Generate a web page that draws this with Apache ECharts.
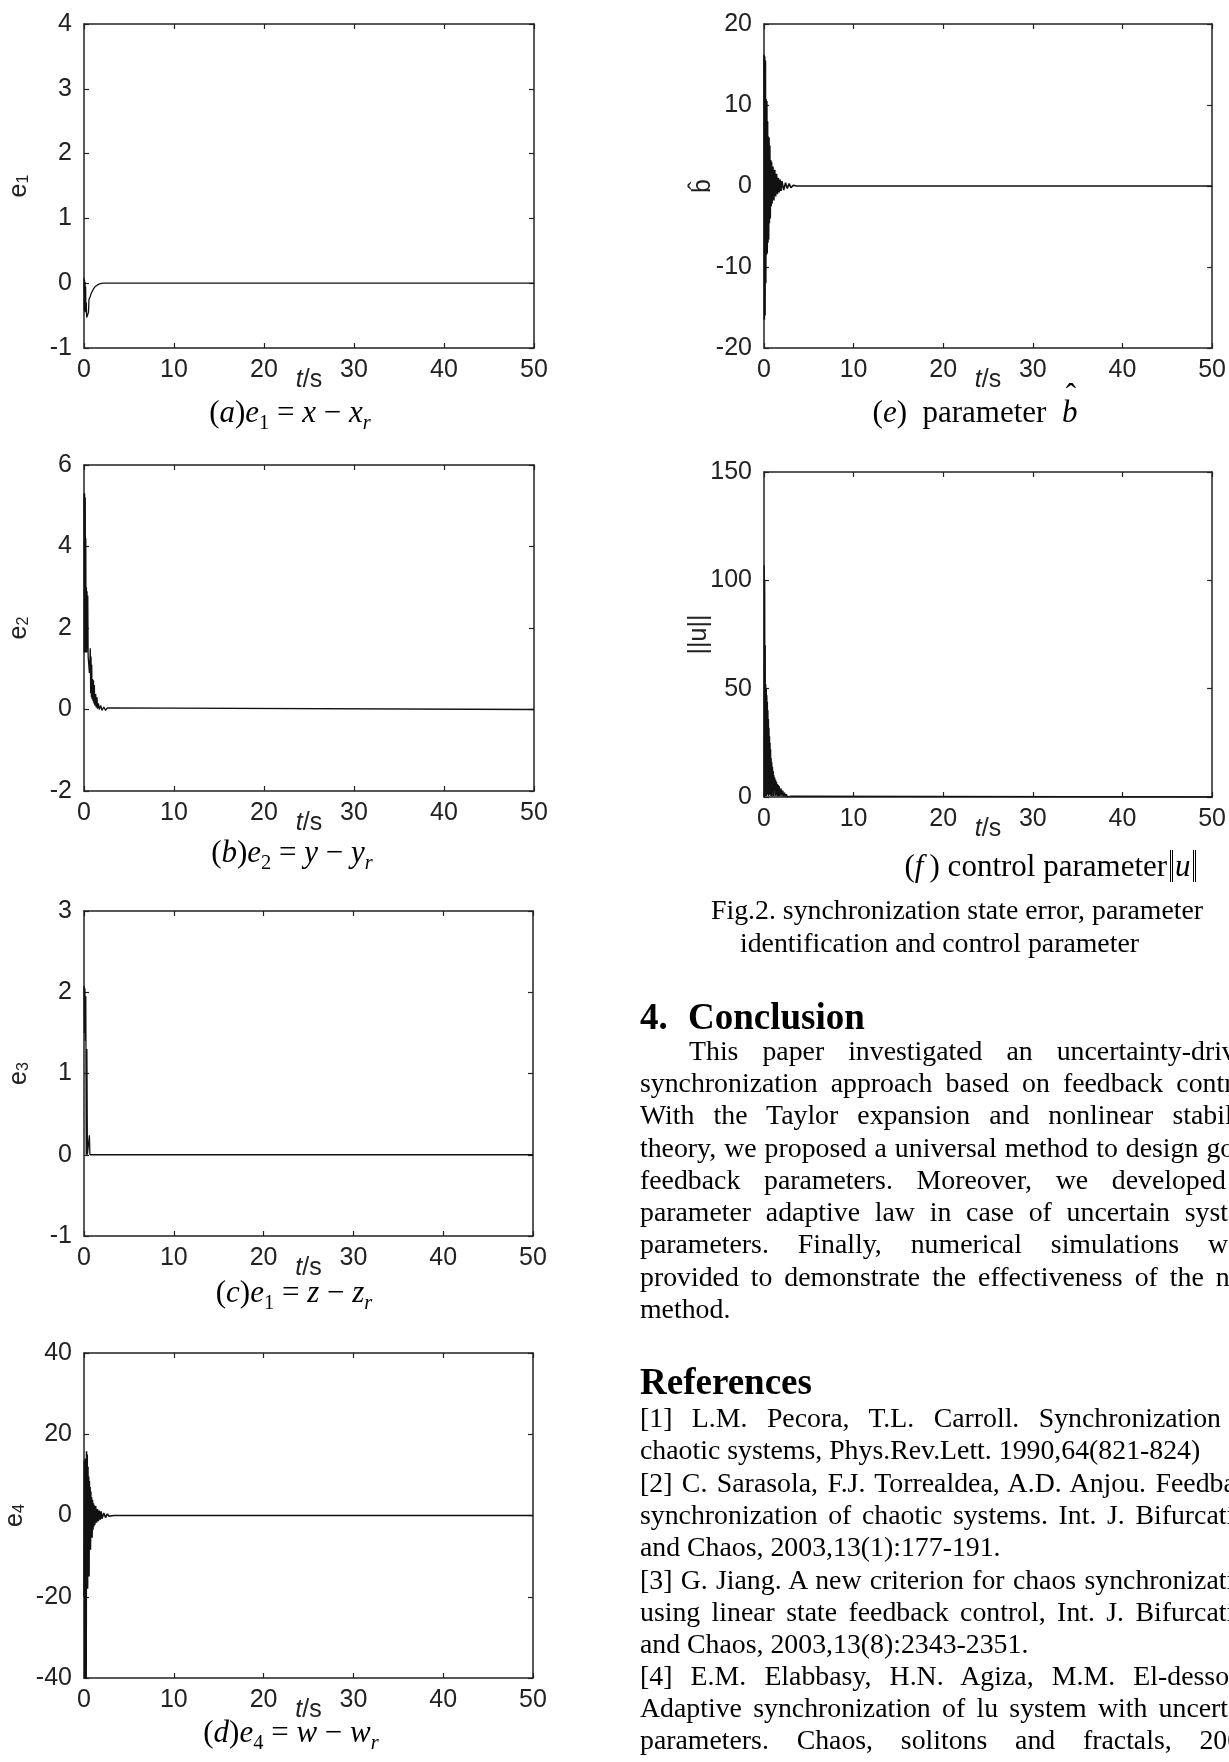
<!DOCTYPE html>
<html><head><meta charset="utf-8">
<script src="https://cdn.jsdelivr.net/npm/echarts/dist/echarts.min.js"></script>
<style>
html,body{margin:0;padding:0;width:1229px;height:1762px;overflow:hidden;background:#fff;}
#chart{position:absolute;left:0;top:0;width:1229px;height:1762px;}
.t{position:absolute;font-family:"Liberation Serif","Times New Roman",serif;color:#000;white-space:nowrap;}
.cap{font-size:31px;line-height:36px;text-align:center;}
.sub{font-size:0.66em;position:relative;top:0.32em;}
.hat{position:relative;display:inline-block;}
.hat::before{content:"\02C6";position:absolute;left:0.12em;top:-0.55em;font-style:normal;}
.nb{display:inline-block;border-left:3px double #000;border-right:3px double #000;padding:0 2px;line-height:32px;margin-left:3px;}
.j{position:absolute;font-family:"Liberation Serif","Times New Roman",serif;font-size:27.8px;line-height:32px;height:32px;overflow:hidden;color:#000;text-align:justify;text-align-last:justify;}
.l{position:absolute;font-family:"Liberation Serif","Times New Roman",serif;font-size:27.8px;line-height:32px;color:#000;white-space:nowrap;}
.h{position:absolute;font-family:"Liberation Serif","Times New Roman",serif;font-size:37px;line-height:40px;font-weight:bold;color:#000;white-space:nowrap;}
</style>
</head><body>
<div id="chart"></div>
<div id="texts"></div>
<script>
// ---------- data (t in s, value) ----------
const xTickValues = [0, 10, 20, 30, 40, 50];

const e1Data = [[0,0.08],[0.03,-0.42],[0.06,0.05],[0.09,-0.44],[0.12,0.02],[0.15,-0.45],[0.18,-0.05],[0.21,-0.45],[0.25,-0.3],[0.3,-0.53],[0.35,-0.55],[0.42,-0.5],[0.5,-0.45],[0.55,-0.25],[0.7,-0.2],[0.8,-0.16],[0.9,-0.13],[1.0,-0.1],[1.1,-0.07],[1.25,-0.05],[1.4,-0.03],[1.7,-0.01],[2.1,0],[50,0]];

const e2Data = [[0,5.3],[0.03,1.4],[0.07,5.3],[0.1,1.4],[0.14,5.2],[0.17,1.5],[0.2,4.2],[0.23,1.4],[0.27,3.0],[0.3,1.4],[0.34,2.9],[0.37,1.5],[0.42,2.8],[0.46,1.3],[0.5,1.3],[0.6,0.9],[0.7,1.5],[0.74,0.4],[0.78,1.3],[0.82,0.3],[0.86,1.1],[0.9,0.25],[0.95,0.75],[1.0,0.2],[1.05,0.72],[1.1,0.15],[1.15,0.6],[1.2,0.1],[1.3,0.38],[1.35,0.05],[1.45,0.3],[1.5,0.02],[1.6,0.15],[1.7,0.0],[1.85,0.1],[2.0,-0.02],[2.2,0.06],[2.4,-0.02],[2.6,0.04],[2.8,0],[50,0]];

const e3Data = [[0,2.08],[0.05,1.5],[0.1,2.05],[0.15,1.4],[0.2,1.95],[0.25,0.0],[0.32,1.3],[0.38,0.0],[0.6,0.24],[0.66,0],[50,0]];

const e4Data = [[0,-20],[0.04,13.5],[0.08,-40],[0.12,14],[0.16,-18],[0.2,13],[0.24,-40],[0.28,15.8],[0.32,-15],[0.36,15],[0.4,-18],[0.44,12],[0.48,-12],[0.52,9.6],[0.56,-15],[0.6,8.5],[0.64,-8],[0.68,7],[0.72,-8.4],[0.76,5.9],[0.8,-5.2],[0.85,4.5],[0.9,-5.5],[0.95,3.8],[1.0,-3.5],[1.05,3],[1.1,-2.7],[1.15,2.5],[1.2,-2.3],[1.3,2.3],[1.4,-1.8],[1.5,1.6],[1.6,-1.4],[1.7,1.2],[1.8,-1.0],[1.9,1.0],[2.0,-0.8],[2.2,0.6],[2.4,-0.5],[2.6,0.4],[2.8,-0.2],[3.0,0.2],[3.3,0],[50,0]];

const bHatData = [[0,16.2],[0.04,-16.5],[0.08,16],[0.12,-16],[0.16,15.5],[0.2,-12],[0.24,10.7],[0.28,-8.5],[0.32,10.5],[0.36,-8.3],[0.4,8],[0.44,-7],[0.48,6.1],[0.52,-6.6],[0.56,6],[0.6,-4.6],[0.65,5],[0.7,-4],[0.75,3.2],[0.8,-2.5],[0.85,3],[0.9,-2.2],[1.0,2.4],[1.1,-1.8],[1.2,2],[1.3,-1.3],[1.4,1.5],[1.5,-1],[1.6,1],[1.7,-0.8],[1.8,0.8],[1.9,-0.6],[2.0,0.6],[2.2,-0.5],[2.4,0.4],[2.6,-0.3],[2.8,0.3],[3.0,-0.2],[3.3,0.1],[3.6,0],[50,0]];

const uNormData = [[0,0],[0.02,107],[0.05,2],[0.08,100],[0.11,1],[0.14,70],[0.17,0.5],[0.2,52],[0.23,1.5],[0.26,50],[0.29,0.5],[0.32,47],[0.35,3],[0.38,44],[0.41,1],[0.44,40],[0.47,3],[0.5,36],[0.53,0.5],[0.56,32],[0.59,3.5],[0.62,28],[0.65,1],[0.68,25],[0.71,4],[0.74,22],[0.77,0.5],[0.8,18],[0.83,2],[0.87,16],[0.91,0.3],[0.95,14],[0.99,3],[1.03,12],[1.07,0.5],[1.11,10],[1.15,3],[1.2,9],[1.25,0.5],[1.3,8],[1.35,1],[1.4,7],[1.45,0.3],[1.5,6],[1.55,0.5],[1.6,5.5],[1.65,0.3],[1.7,5],[1.8,0.5],[1.9,4],[2.0,0.3],[2.1,3],[2.2,0.2],[2.3,2],[2.4,0.2],[2.5,1.3],[2.6,0.1],[2.7,0.8],[2.8,0.1],[3.0,0.4],[3.2,0.05],[50,0]];

const yMins = [-1, -2, -1, -40, -20, 0];
const yMaxs = [4, 6, 3, 40, 20, 150];
const yIntervals = [1, 2, 1, 20, 10, 50];
const yNames = ['{b|e}{s|1}', '{b|e}{s|2}', '{b|e}{s|3}', '{b|e}{s|4}', '{b|b\u0302}', '{b|||u||}'];

// ---------- text ----------
const subCaptions = [
  '(<i>a</i>)<i>e</i><span class="sub">1</span> = <i>x</i> \u2212 <i>x</i><span class="sub"><i>r</i></span>',
  '(<i>b</i>)<i>e</i><span class="sub">2</span> = <i>y</i> \u2212 <i>y</i><span class="sub"><i>r</i></span>',
  '(<i>c</i>)<i>e</i><span class="sub">1</span> = <i>z</i> \u2212 <i>z</i><span class="sub"><i>r</i></span>',
  '(<i>d</i>)<i>e</i><span class="sub">4</span> = <i>w</i> \u2212 <i>w</i><span class="sub"><i>r</i></span>',
  '(<i>e</i>)&nbsp;&nbsp;parameter&nbsp;&nbsp;<span class="hat"><i>b</i></span>',
  '(<i>f</i>&thinsp;) control parameter<span class="nb"><i>u</i></span>'
];
const figCaption = ['Fig.2. synchronization state error, parameter', 'identification and control parameter'];
const conclusionLines = [
  'This paper investigated an uncertainty-driven',
  'synchronization approach based on feedback control.',
  'With the Taylor expansion and nonlinear stability',
  'theory, we proposed a universal method to design good',
  'feedback parameters. Moreover, we developed a',
  'parameter adaptive law in case of uncertain system',
  'parameters. Finally, numerical simulations were',
  'provided to demonstrate the effectiveness of the new',
  'method.'
];
const referenceLines = [
  '[1] L.M. Pecora, T.L. Carroll. Synchronization in',
  'chaotic systems, Phys.Rev.Lett. 1990,64(821-824)',
  '[2] C. Sarasola, F.J. Torrealdea, A.D. Anjou. Feedback',
  'synchronization of chaotic systems. Int. J. Bifurcation',
  'and Chaos, 2003,13(1):177-191.',
  '[3] G. Jiang. A new criterion for chaos synchronization',
  'using linear state feedback control, Int. J. Bifurcation',
  'and Chaos, 2003,13(8):2343-2351.',
  '[4] E.M. Elabbasy, H.N. Agiza, M.M. El-dessoky.',
  'Adaptive synchronization of lu system with uncertain',
  'parameters. Chaos, solitons and fractals, 2004,'
];
const referenceJustified = [true, false, true, true, false, true, true, false, true, true, true];

// ---------- layout ----------
const grids = [
  {left: 84, top: 24, width: 450, height: 324},
  {left: 84, top: 465, width: 450, height: 326},
  {left: 84, top: 911, width: 449, height: 325},
  {left: 84, top: 1353, width: 449, height: 325},
  {left: 764, top: 24, width: 452, height: 324},
  {left: 764, top: 472, width: 452, height: 325}
];
const yNameGaps = [52, 52, 52, 56, 48, 52];
const capPos = [[290, 413], [292, 853], [294, 1293], [291, 1733], [975, 413], [1050, 867]];
const seriesData = [e1Data, e2Data, e3Data, e4Data, bHatData, uNormData];
const lineWidths = [1.3, 1.3, 1.3, 1.6, 1.6, 1.3];

const frameColor = '#222';
const tickFont = {fontFamily: 'Liberation Sans, Arial, sans-serif', fontSize: 25, color: '#222'};
const xAxes = [], yAxes = [], series = [];
grids.forEach((g, i) => {
  const axisLine = {show: true, onZero: false, lineStyle: {color: frameColor, width: 1.5}};
  const axisTick = {show: true, inside: true, length: 5, lineStyle: {color: frameColor, width: 1.2}};
  xAxes.push({type: 'value', gridIndex: i, position: 'bottom', min: 0, max: 50, interval: 10,
    axisLine, axisTick, splitLine: {show: false},
    axisLabel: Object.assign({margin: 10}, tickFont),
    name: '{it|t}{n|/s}', nameLocation: 'middle', nameGap: 20, nameMoveOverlap: false,
    nameTextStyle: {rich: {it: {fontFamily: 'Liberation Sans, Arial', fontSize: 25, fontStyle: 'italic', color: '#222'}, n: {fontFamily: 'Liberation Sans, Arial', fontSize: 25, color: '#222'}}}
  });
  xAxes.push({type: 'value', gridIndex: i, position: 'top', min: 0, max: 50, interval: 10,
    axisLine, axisTick, splitLine: {show: false}, axisLabel: {show: false}});
  yAxes.push({type: 'value', gridIndex: i, position: 'left', min: yMins[i], max: yMaxs[i], interval: yIntervals[i],
    axisLine, axisTick, splitLine: {show: false},
    axisLabel: Object.assign({margin: 12}, tickFont),
    name: yNames[i], nameLocation: 'middle', nameRotate: 90, nameGap: yNameGaps[i], nameMoveOverlap: false,
    nameTextStyle: {rich: {b: {fontFamily: 'Liberation Sans, Arial', fontSize: 25, color: '#222'}, s: {fontFamily: 'Liberation Sans, Arial', fontSize: 16, color: '#222', verticalAlign: 'bottom', padding: [10, 0, 0, 0]}}}
  });
  yAxes.push({type: 'value', gridIndex: i, position: 'right', min: yMins[i], max: yMaxs[i], interval: yIntervals[i],
    axisLine, axisTick, splitLine: {show: false}, axisLabel: {show: false}});
  series.push({type: 'line', xAxisIndex: 2 * i, yAxisIndex: 2 * i, data: seriesData[i],
    symbol: 'none', showSymbol: false, clip: true, animation: false,
    lineStyle: {color: '#111', width: lineWidths[i]}});
});

const chart = echarts.init(document.getElementById('chart'), null, {renderer: 'canvas'});
chart.setOption({
  animation: false,
  backgroundColor: '#fff',
  grid: grids.map(g => Object.assign({containLabel: false}, g)),
  xAxis: xAxes,
  yAxis: yAxes,
  series: series
});

// ---------- HTML text ----------
const box = document.getElementById('texts');
function add(cls, html, left, top, width) {
  const d = document.createElement('div');
  d.className = cls;
  d.innerHTML = html;
  d.style.left = left + 'px';
  d.style.top = top + 'px';
  if (width) d.style.width = width + 'px';
  box.appendChild(d);
  return d;
}
subCaptions.forEach((c, i) => {
  add('t cap', c, capPos[i][0] - 200, capPos[i][1] - 19, 400);
});
add('l', figCaption[0], 711, 912 - 18);
add('l', figCaption[1], 740, 945 - 18);
add('h', '4.', 640, 1017 - 20);
add('h', 'Conclusion', 688, 1017 - 20);
const colRight = 1262;
const bodyY = [1053, 1085, 1117, 1150, 1182, 1214, 1246, 1279, 1311];
conclusionLines.forEach((s, i) => {
  const left = i === 0 ? 689 : 640;
  if (i < conclusionLines.length - 1) add('j', s, left, bodyY[i] - 18, colRight - left);
  else add('l', s, left, bodyY[i] - 18);
});
add('h', 'References', 640, 1382 - 20);
const refY = [1420, 1452, 1485, 1517, 1549, 1582, 1614, 1646, 1678, 1710, 1742];
referenceLines.forEach((s, i) => {
  if (referenceJustified[i]) add('j', s, 640, refY[i] - 18, colRight - 640);
  else add('l', s, 640, refY[i] - 18);
});
</script>
</body></html>
